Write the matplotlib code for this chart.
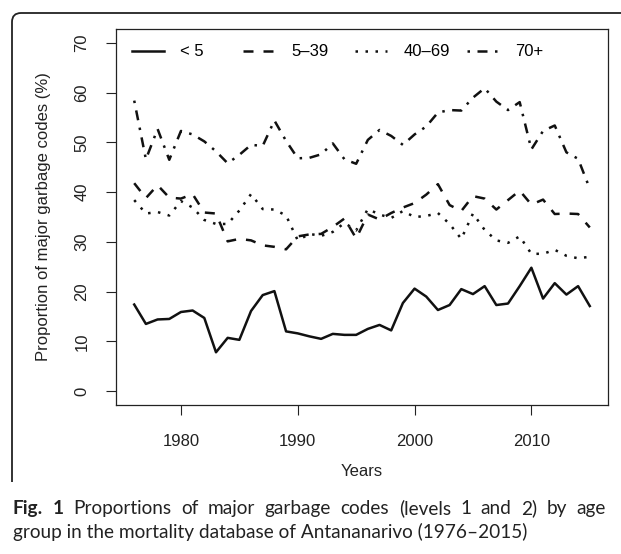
import matplotlib
matplotlib.use("Agg")
import matplotlib.pyplot as plt
from matplotlib.path import Path
from matplotlib.patches import PathPatch

years = list(range(1976, 2016))

under5 = [17.4, 13.5, 14.4, 14.5, 15.9, 16.2, 14.7, 7.8, 10.7, 10.3,
          16.1, 19.3, 20.1, 12.0, 11.6, 11.0, 10.5, 11.5, 11.3, 11.3,
          12.5, 13.3, 12.2, 17.7, 20.6, 19.0, 16.3, 17.3, 20.5, 19.5,
          21.1, 17.3, 17.6, 21.1, 24.8, 18.6, 21.7, 19.4, 21.1, 17.1]

age5_39 = [41.8, 38.8, 41.4, 38.9, 38.7, 39.6, 35.9, 35.7, 30.1, 30.6,
           30.3, 29.3, 29.0, 28.5, 31.1, 31.5, 31.6, 33.0, 34.7, 30.7,
           35.5, 34.5, 35.8, 36.9, 37.8, 39.5, 41.6, 37.4, 36.2, 39.2,
           38.7, 36.5, 38.4, 40.3, 37.5, 38.5, 35.6, 35.7, 35.6, 32.9]

age40_69 = [38.4, 35.7, 36.0, 35.3, 38.2, 36.9, 34.4, 33.6, 33.6, 36.3,
            39.6, 36.6, 36.5, 35.3, 30.3, 31.6, 31.2, 32.0, 33.8, 32.3,
            36.6, 35.5, 34.8, 36.2, 35.0, 35.2, 35.8, 33.6, 30.6, 35.7,
            32.4, 30.3, 29.8, 31.1, 27.6, 27.6, 28.4, 27.2, 26.7, 27.0]

age70p = [58.4, 46.6, 52.7, 46.5, 52.3, 51.6, 50.2, 48.2, 45.8, 47.5,
          49.5, 49.3, 54.4, 50.3, 46.8, 46.9, 47.6, 49.8, 46.6, 45.7,
          50.5, 52.5, 51.3, 49.5, 51.6, 53.2, 56.0, 56.5, 56.4, 59.0,
          60.9, 58.2, 56.5, 58.1, 48.6, 52.3, 53.4, 48.0, 46.7, 40.7]

series_labels = ["< 5", "5\u201339", "40\u201369", "70+"]
xticks = [1980, 1990, 2000, 2010]
yticks = [0, 10, 20, 30, 40, 50, 60, 70]

caption_bold = "Fig. 1"
caption_line1 = "Proportions of major garbage codes (levels 1 and 2) by age"
caption_line2 = "group in the mortality database of Antananarivo (1976\u20132015)"

W, H = 621, 554
fig = plt.figure(figsize=(W / 100, H / 100), dpi=100)
plt.rcParams["font.family"] = ["Liberation Sans", "DejaVu Sans"]

L, R, T, B = 116, 608, 29, 405
ax = fig.add_axes([L / W, 1 - B / H, (R - L) / W, (B - T) / H])

lw = 1.8
ink = "#111111"
styles = [dict(linestyle="-"),
          dict(linestyle=(0, (4, 4))),
          dict(linestyle=(0, (1, 3))),
          dict(linestyle=(0, (1, 3, 4, 3)))]
data = [under5, age5_39, age40_69, age70p]
handles = []
for vals, st, lab in zip(data, styles, series_labels):
    h, = ax.plot(years, vals, color=ink, lw=lw, label=lab, **st)
    handles.append(h)

ax.set_xlim(1974.44, 2016.56)
ax.set_ylim(-2.8, 72.8)
ax.set_xticks(xticks)
ax.set_yticks(yticks)
ax.tick_params(axis="both", direction="out", length=7, width=0.8, labelsize=12, colors="#222222")
ax.tick_params(axis="x", pad=14)
ax.tick_params(axis="y", pad=12)
for lab in ax.get_yticklabels():
    lab.set_rotation(90)
    lab.set_va("center")
for s in ax.spines.values():
    s.set_linewidth(0.9)
    s.set_color("#222222")
ax.set_xlabel("Years", fontsize=12, labelpad=11, color="#222222")
ax.set_ylabel("Proportion of major garbage codes (%)", fontsize=12, labelpad=17, color="#222222")

# legend: four single-entry legends at evenly spaced columns (like R's legend)
xs_px = [132, 243, 355, 467]
for i, (h, lab) in enumerate(zip(handles, series_labels)):
    leg = ax.legend([h], [lab], loc="center left",
                    bbox_to_anchor=((xs_px[i] - L) / (R - L), 1 - (52 - T) / (B - T)),
                    frameon=False, fontsize=12, handlelength=1.9, handletextpad=1.0,
                    borderaxespad=0, borderpad=0)
    if i < 3:
        ax.add_artist(leg)

# rounded border of the figure panel
x0, y0 = 12, 13
r = 9
verts = [(x0, H - 482), (x0, H - (y0 + r)), (x0, H - y0), (x0 + r, H - y0), (W, H - y0)]
codes = [Path.MOVETO, Path.LINETO, Path.CURVE3, Path.CURVE3, Path.LINETO]
path = Path([(vx / W, vy / H) for vx, vy in verts], codes)
fig.patches.append(PathPatch(path, transform=fig.transFigure, fill=False, lw=1.3, edgecolor="#222222"))

# caption: last line at natural width, first line justified
capfont = ["Lato", "DejaVu Sans"]
fig.canvas.draw()
rend = fig.canvas.get_renderer()

def text_width(s, size, weight="normal"):
    t = fig.text(0, 0, s, fontsize=size, weight=weight, family=capfont)
    w = t.get_window_extent(renderer=rend).width
    t.remove()
    return w

cap_left, cap_right, line2_right = 13, 606, 528
size = 12.0
for _ in range(3):
    size *= (line2_right - cap_left) / text_width(caption_line2, size)

base1, base2 = 514, 538
words = [(w, "bold") for w in caption_bold.split()] + [(w, "normal") for w in caption_line1.split()]
widths = [text_width(w, size, wt) for w, wt in words]
gap = (cap_right - cap_left - sum(widths)) / (len(words) - 1)
xcur = cap_left
for (w, wt), wd in zip(words, widths):
    fig.text(xcur / W, 1 - base1 / H, w, fontsize=size, weight=wt, family=capfont,
             va="baseline", ha="left", color="#222222")
    xcur += wd + gap
fig.text(cap_left / W, 1 - base2 / H, caption_line2,
         fontsize=size, family=capfont, va="baseline", ha="left", color="#222222")

fig.savefig("out.png", dpi=100)
